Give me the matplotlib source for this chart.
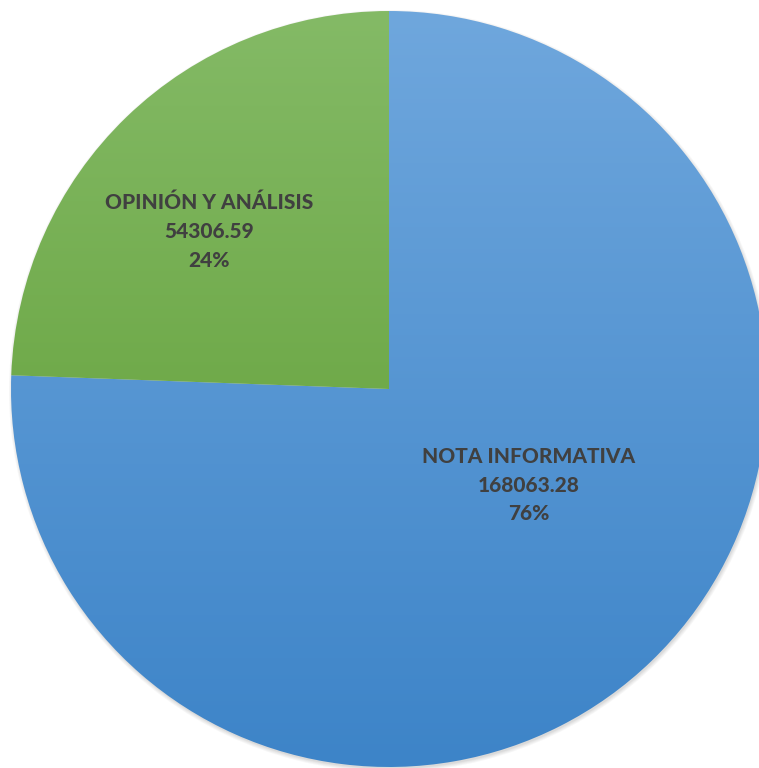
import numpy as np
import matplotlib.pyplot as plt
from matplotlib.colors import LinearSegmentedColormap

categories = ['NOTA INFORMATIVA', 'OPINIÓN Y ANÁLISIS']
values = [168063.28, 54306.59]
percents = ['76%', '24%']
value_labels = ['168063.28', '54306.59']

top_colors = ['#6fa7dd', '#84ba66']
bottom_colors = ['#3d84c8', '#5b9a2e']

W, H = 759, 768
fig = plt.figure(figsize=(W / 100, H / 100), dpi=100)
ax = fig.add_axes([0, 0, 1, 1])
ax.set_xlim(0, W)
ax.set_ylim(0, H)
ax.set_aspect('equal')
ax.axis('off')

cx, cy, r = 389, H - 389, 378

# soft shadow under the pie
for i, a in enumerate([0.05, 0.05, 0.06, 0.08]):
    sh = plt.Circle((cx + 1, cy - 2), r + 3 - i, color='#606060', alpha=a, lw=0)
    ax.add_patch(sh)

wedges, _ = ax.pie(values, startangle=90, counterclock=False, center=(cx, cy),
                   radius=r, frame=True, wedgeprops=dict(linewidth=0))
ax.set_xlim(0, W)
ax.set_ylim(0, H)
ax.axis('off')

grad = np.linspace(0, 1, 256).reshape(-1, 1)
for w, c0, c1 in zip(wedges, top_colors, bottom_colors):
    w.set_facecolor('none')
    cmap = LinearSegmentedColormap.from_list('g', [c1, c0])
    im = ax.imshow(grad, cmap=cmap, extent=(cx - r, cx + r, cy - r, cy + r),
                   origin='lower', aspect='auto', zorder=1)
    im.set_clip_path(w)

# label positions as fractions of radius from center
label_pos = [(0.37, -0.254), (-0.476, 0.418)]
for (dx, dy), cat, v, p in zip(label_pos, categories, value_labels, percents):
    ax.text(cx + dx * r, cy + dy * r, f'{cat}\n{v}\n{p}', ha='center', va='center',
            fontsize=15, fontweight=900, color='#404040', family='Lato',
            linespacing=1.62, zorder=3)

fig.savefig('out.png', dpi=100)
